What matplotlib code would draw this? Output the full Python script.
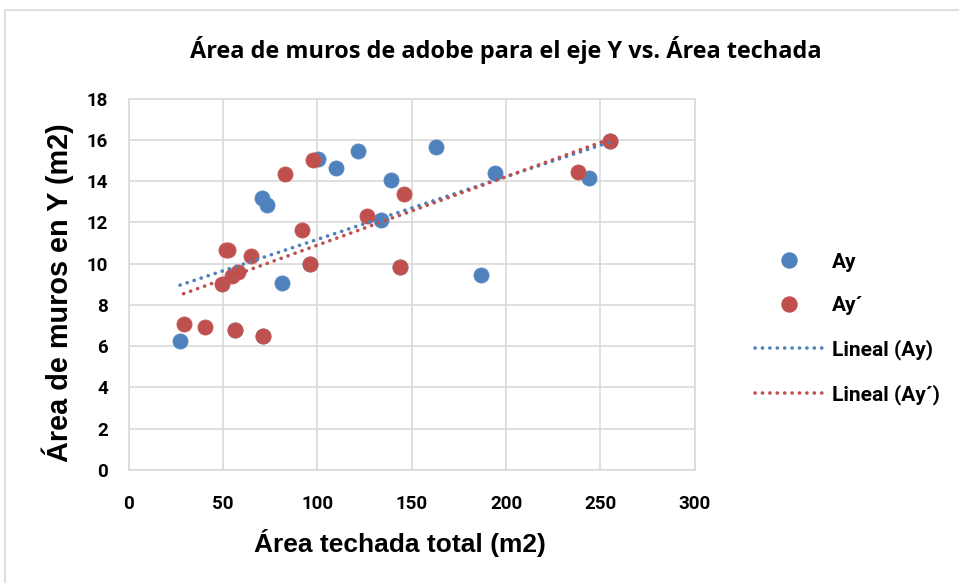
import numpy as np
import matplotlib
matplotlib.use("Agg")
import matplotlib.pyplot as plt
from matplotlib.lines import Line2D
from matplotlib.patches import Rectangle
from matplotlib.font_manager import FontProperties

# Área techada total (m2) vs. área de muros en Y (m2)
ay_x = [27.2, 70.5, 73.1, 81.3, 100.2, 110.0, 121.5, 133.9, 139.2, 162.8,
        186.7, 194.1, 243.9, 56.2, 71.2, 96.2, 143.6, 254.9]
ay_y = [6.23, 13.19, 12.86, 9.06, 15.08, 14.61, 15.47, 12.09, 14.04, 15.66,
        9.45, 14.37, 14.14, 6.80, 6.50, 9.97, 9.84, 15.96]

ayp_x = [29.1, 40.4, 49.4, 51.3, 52.5, 54.6, 56.2, 57.8, 65.0, 71.2,
         82.7, 91.8, 96.2, 97.8, 126.3, 143.6, 145.7, 237.9, 254.9]
ayp_y = [7.05, 6.91, 9.01, 10.68, 10.68, 9.42, 6.80, 9.58, 10.35, 6.50,
         14.34, 11.63, 9.97, 15.00, 12.30, 9.84, 13.38, 14.42, 15.96]

x_ticks = [0, 50, 100, 150, 200, 250, 300]
y_ticks = [0, 2, 4, 6, 8, 10, 12, 14, 16, 18]

BLUE = "#4F81BD"
RED = "#C0504D"
GRID = "#D9D9D9"
SANS = ["Roboto", "DejaVu Sans"]
TITLE = ["Open Sans", "DejaVu Sans"]
ARIAL = ["Liberation Sans", "DejaVu Sans"]

W, H = 959, 583
fig = plt.figure(figsize=(W / 100, H / 100), dpi=100)
ax = fig.add_axes([128.7 / W, 1 - 470 / H, (694.8 - 128.7) / W, (470 - 98.5) / H])

# chart area frame
fig.add_artist(Rectangle((5 / W, -0.1), 1.2, 1.1 - 10 / H, transform=fig.transFigure,
                         fill=False, edgecolor=GRID, linewidth=1.2))

ms = 118
ax.scatter(ay_x, ay_y, s=ms, color=BLUE, edgecolors="#5B8BC4", linewidths=0.6, zorder=3)
ax.scatter(ayp_x, ayp_y, s=ms, color=RED, edgecolors="#C45A57", linewidths=0.6, zorder=4)

dot = (0, (0.05, 2.0))
for xs, ys, col in ((ay_x, ay_y, BLUE), (ayp_x, ayp_y, RED)):
    k, b = np.polyfit(xs, ys, 1)
    xx = np.array([min(xs), max(xs)])
    ax.plot(xx, k * xx + b, color=col, linewidth=2.6, linestyle=dot,
            dash_capstyle="round", zorder=5)

ax.set_xlim(0, 300)
ax.set_ylim(0, 18)
ax.set_xticks(x_ticks)
ax.set_yticks(y_ticks)
ax.grid(True, color=GRID, linewidth=1.2)
ax.set_axisbelow(True)
for s in ax.spines.values():
    s.set_color(GRID)
    s.set_linewidth(1.2)
ax.tick_params(length=0)
ax.tick_params(axis="y", pad=15)
ax.tick_params(axis="x", pad=18)

tick_fp = FontProperties(family=SANS, weight="bold", size=13.5)
for lab in ax.get_yticklabels() + ax.get_xticklabels():
    lab.set_fontproperties(tick_fp)

fig.text(506 / W, 1 - 50 / H, "Área de muros de adobe para el eje Y vs. Área techada",
         ha="center", va="center", family=TITLE, weight="bold", size=16.9)
fig.text(400 / W, 1 - 543 / H, "Área techada total (m2)", ha="center", va="center",
         family=ARIAL, weight="bold", size=19)
fig.text(58 / W, 1 - 293 / H, "Área de muros en Y (m2)", ha="center", va="center",
         rotation=90, family=ARIAL, weight="bold", size=20.8)

handles = [
    Line2D([], [], linestyle="none", marker="o", markersize=10.8, color=BLUE),
    Line2D([], [], linestyle="none", marker="o", markersize=10.8, color=RED),
    Line2D([], [], color=BLUE, linewidth=2.6, linestyle=dot, dash_capstyle="round"),
    Line2D([], [], color=RED, linewidth=2.6, linestyle=dot, dash_capstyle="round"),
]
labels = ["Ay", "Ay´", "Lineal (Ay)", "Lineal (Ay´)"]
fig.legend(handles, labels, loc="center left", bbox_to_anchor=(736 / W, 1 - 329 / H),
           frameon=False, handlelength=3.27, handletextpad=0.43, labelspacing=1.17,
           prop=dict(family=SANS, weight="bold", size=15))

fig.savefig("out.png", dpi=100)
